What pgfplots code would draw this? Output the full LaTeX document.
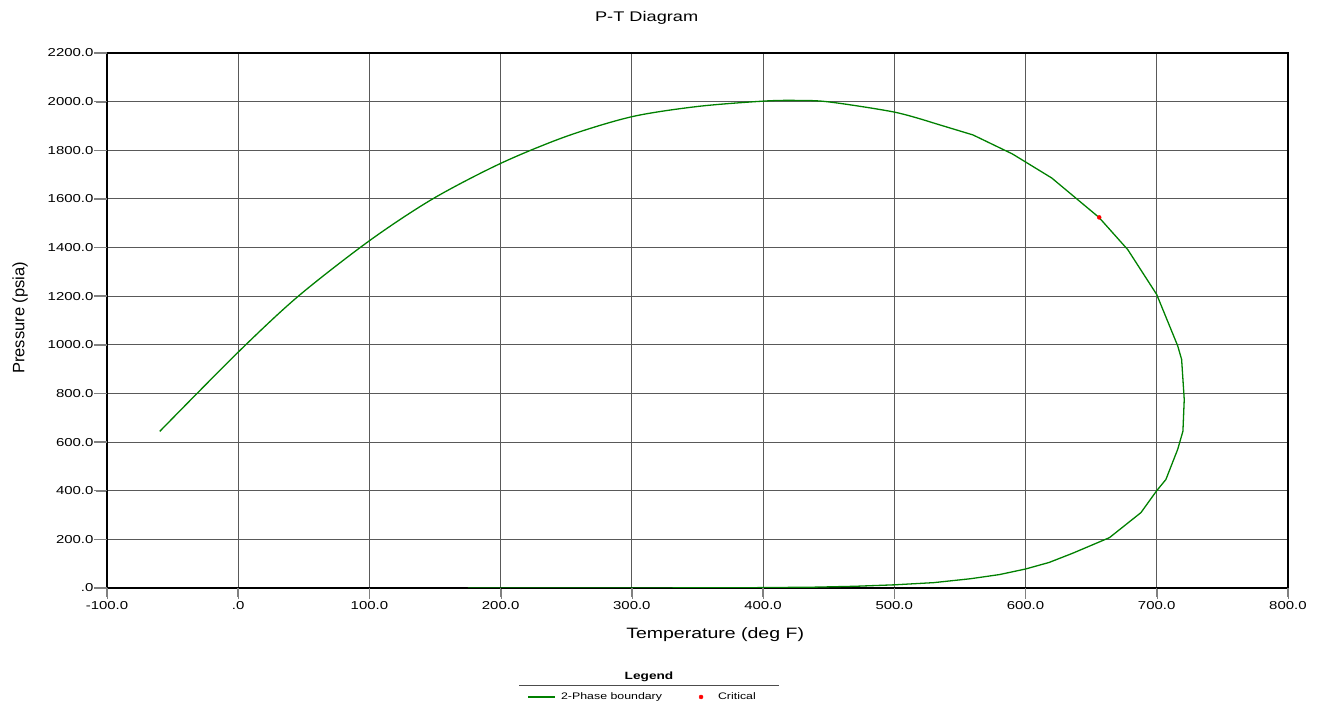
\documentclass[border=0pt]{standalone}
\usepackage{fontspec}
\setmainfont[FakeStretch=1.3]{Liberation Sans}
\newfontfamily\plainfont{Liberation Sans}
\usepackage{pgfplots}
\pgfplotsset{compat=1.18}
\pgfplotsset{
  longline legend/.style={legend image code/.code={\draw[##1] (0pt,0pt) -- (27pt,0pt);}},
  dot legend/.style={legend image code/.code={\path[draw=none,fill=none] (0pt,0pt) -- (22pt,0pt); \draw[##1] plot coordinates {(10pt,0pt)};}}
}
\definecolor{pgreen}{RGB}{0,128,0}
\begin{document}
\begin{tikzpicture}[x=1pt,y=1pt]
\path[use as bounding box] (0,0) rectangle (1318,703);
\begin{axis}[at={(107pt,115pt)}, anchor=south west, scale only axis,
  width=1181pt, height=535pt,
  xmin=-100, xmax=800, ymin=0, ymax=2200,
  xtick={-100,0,100,200,300,400,500,600,700,800},
  xticklabels={-100.0,.0,100.0,200.0,300.0,400.0,500.0,600.0,700.0,800.0},
  ytick={0,200,400,600,800,1000,1200,1400,1600,1800,2000,2200},
  yticklabels={.0,200.0,400.0,600.0,800.0,1000.0,1200.0,1400.0,1600.0,1800.0,2000.0,2200.0},
  grid=major, major grid style={line width=1pt, color=black!65},
  axis line style={line width=1.6pt},
  tick align=outside, tick pos=left,
  major tick length=11pt,
  ticklabel style={font=\fontsize{11.5}{13}\selectfont},
  xticklabel style={yshift=1pt},
  yticklabel style={xshift=1pt},
  title={P-T Diagram},
  every axis title/.style={at={(axis description cs:0.457,1.066)}, anchor=center, font=\fontsize{14}{17}\selectfont},
  xlabel={Temperature (deg F)}, ylabel={\plainfont Pressure (psia)},
  every axis x label/.style={at={(axis description cs:0.515,-0.0879)}, anchor=center, font=\fontsize{15}{18}\selectfont},
  every axis y label/.style={at={(axis description cs:-0.0735,0.505)}, rotate=90, anchor=center, font=\fontsize{16.5}{19}\selectfont},
  legend style={at={(axis description cs:0.455,-0.2037)}, anchor=center, draw=none, fill=none,
    legend columns=2, font=\fontsize{9.5}{12}\selectfont,
    nodes={inner xsep=5pt},
    /tikz/every even column/.append style={column sep=24pt}},
  extra description/.code={
    \foreach \t in {-100,0,100,200,300,400,500,600,700,800}{
      \draw[black!50, line width=1.5pt] (axis cs:\t,0) -- ++(0pt,-9pt);}
    \foreach \p in {0,200,400,600,800,1000,1200,1400,1600,1800,2000,2200}{
      \draw[black!50, line width=1.5pt] (axis cs:-100,\p) -- ++(-13pt,0pt);}
  },
]
\addplot[color=pgreen, line width=1.3pt, smooth, tension=0.5, longline legend] coordinates {
(-59.8,644) (0,970) (45.8,1200) (100,1428) (148.2,1600) (200,1746)
(250,1857) (300,1938) (350,1980) (400,2002) (425,2005) (450,1999)
(500,1957) (530,1912)
};
\addlegendentry{2-Phase boundary}
\addplot[color=pgreen, line width=1.3pt, forget plot] coordinates {
(530,1912) (560,1863) (590,1785) (620,1686) (656,1524) (678,1391)
(700,1207) (716,996) (719,940) (721,775) (720,645) (716,570) (707,446)
(700,400) (688,310) (664,207) (636,143) (618,105) (600,78) (580,55)
(558,38) (530,22) (500,13) (470,7) (440,3.5) (400,1.5) (350,0.5)
(300,0.2) (175,0)
};
\addplot[only marks, mark=*, mark size=2pt, color=red, dot legend] coordinates {(656.2,1524)};
\addlegendentry{Critical}
\end{axis}
\node[font=\bfseries\fontsize{10.5}{13}\selectfont] at (649,26) {Legend};
\draw[line width=0.9pt, black!70] (519,18) -- (779,18);
\end{tikzpicture}
\end{document}
